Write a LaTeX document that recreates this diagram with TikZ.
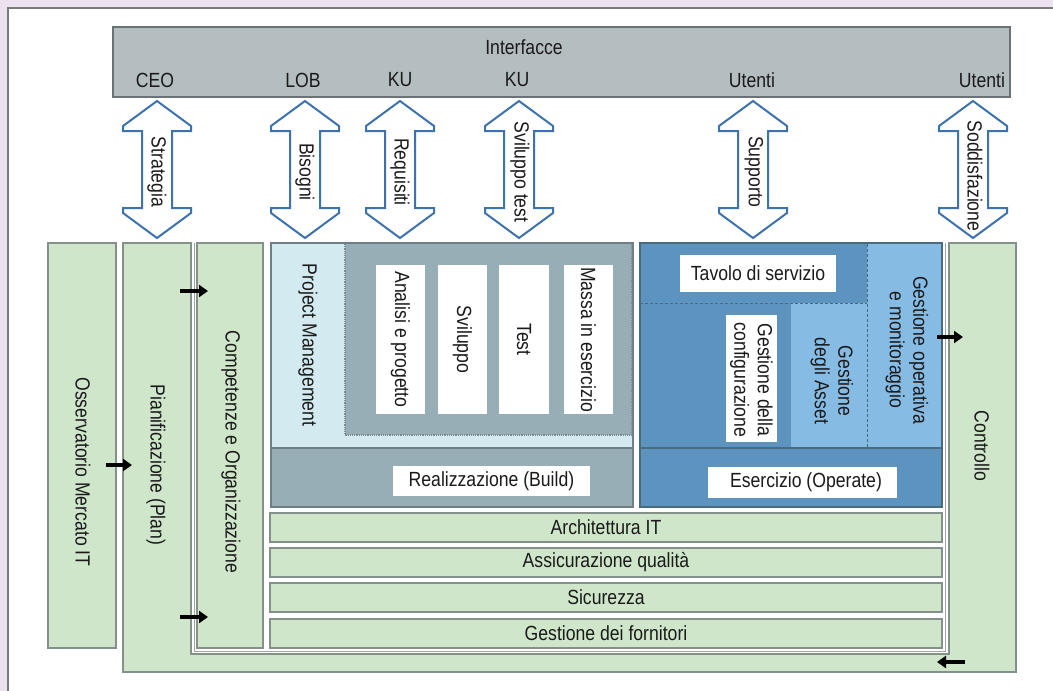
\documentclass[tikz,border=0pt]{standalone}
\usepackage{fontspec}
\setmainfont{Liberation Sans}[FakeStretch=0.86]
\usetikzlibrary{arrows.meta}
\definecolor{lav}{HTML}{ECE2EF}
\definecolor{frameg}{HTML}{7A7A7A}
\definecolor{ifill}{HTML}{B4BDC0}
\definecolor{idraw}{HTML}{6B7275}
\definecolor{arrb}{HTML}{3D72AD}
\definecolor{grnf}{HTML}{CFE6CA}
\definecolor{grnd}{HTML}{84908A}
\definecolor{bpat}{HTML}{98AEB6}
\definecolor{bdraw}{HTML}{6E7F85}
\definecolor{pmblue}{HTML}{D4EAF1}
\definecolor{opat}{HTML}{5C93BF}
\definecolor{odraw}{HTML}{4A6A80}
\definecolor{lblue}{HTML}{86BBE4}
\definecolor{txtc}{HTML}{1A1A1A}
\tikzset{
  every node/.style={inner sep=0pt, outer sep=0pt, font=\fontsize{20.5}{23.5}\selectfont, text=txtc},
  sz/.style 2 args={anchor=north west, minimum width=#1pt, minimum height=#2pt},
  grn/.style={fill=grnf, draw=grnd, line width=1.5pt},
  wbox/.style={fill=white, draw=none},
  rtxt/.style={rotate=-90, align=center},
  bigarr/.style={draw=arrb, fill=white, line width=2pt, line join=miter},
  blk/.style={-{Triangle[length=9pt,width=12pt]}, line width=3.5pt, black},
}
\newcommand\dblarr[1]{%
  \path[bigarr] (#1,101) -- ({#1+34},126) -- ({#1+34},131) -- ({#1+15},131) -- ({#1+15},208)
    -- ({#1+34},208) -- ({#1+34},213) -- (#1,238) -- ({#1-34},213) -- ({#1-34},208)
    -- ({#1-15},208) -- ({#1-15},131) -- ({#1-34},131) -- ({#1-34},126) -- cycle;}
\begin{document}
\begin{tikzpicture}[x=1pt,y=-1pt]
\useasboundingbox (0,0) rectangle (1053,691);
\fill[lav] (0,0) rectangle (1053,691);
\draw[frameg, fill=white, line width=2pt] (8,8) rectangle (1070,710);

% interface band
\node[sz={897}{70}, fill=ifill, draw=idraw, line width=2pt] (iface) at (113,27) {};
\node (tI) at (524,47) {Interfacce};
\node (uCEO) at (155,80) {CEO};
\node (uLOB) at (303,80) {LOB};
\node (uKU1) at (400,80) {KU};
\node (uKU2) at (517,80) {KU};
\node (uUt1) at (752,80) {Utenti};
\node (uUt2) at (982,80) {Utenti};

% double arrows
\dblarr{157}\dblarr{305}\dblarr{400}\dblarr{519}\dblarr{753}\dblarr{973}
\node[rtxt] (aStr) at (157,172) {Strategia};
\node[rtxt] (aBis) at (305,172) {Bisogni};
\node[rtxt] (aReq) at (400,172) {Requisiti};
\node[rtxt] (aSvt) at (520,172) {Sviluppo test};
\node[rtxt] (aSup) at (754,172) {Supporto};
\node[rtxt] (aSod) at (975,176) {Soddisfazione};

% U shape: Pianificazione + bottom + Controllo
\path[grn] (123,243) -- (123,672) -- (1016,672) -- (1016,243) -- (949,243) -- (949,654)
  -- (191,654) -- (191,243) -- cycle;
\draw[grnd!80, line width=1pt] (194.5,243) -- (194.5,651) -- (945.5,651) -- (945.5,243);

% left columns
\node[sz={68}{405}, grn] (oss) at (48,243) {};
\node[sz={66}{405}, grn] (comp) at (197,243) {};
\node[rtxt] (tOss) at (83,472) {Osservatorio Mercato IT};
\node[rtxt] (tPlan) at (156,465) {Pianificazione (Plan)};
\node[rtxt] (tComp) at (231,452) {Competenze e Organizzazione};
\node[rtxt] (tCtrl) at (982,446) {Controllo};

% Build block
\node[sz={362}{264}, fill=bpat, draw=bdraw, line width=2pt] (build) at (271,243) {};
\fill[pmblue] (272,244) rectangle (632,448);
\draw[bdraw!90, densely dotted, line width=1.2pt, fill=bpat] (345,244) -- (345,435) -- (632,435) -- (632,244);
\draw[bdraw, line width=1.5pt] (271,448) -- (633,448);
\draw[bdraw, line width=2pt] (271,243) rectangle (633,507);
\node[sz={49}{149}, wbox] (ana) at (376,265) {};
\node[sz={49}{149}, wbox] (svi) at (438,265) {};
\node[sz={50}{149}, wbox] (tst) at (499,265) {};
\node[sz={49}{149}, wbox] (mas) at (564,265) {};
\node[rtxt] (tPM) at (308,345) {Project Management};
\node[rtxt] at (ana.center) (tAna) {Analisi e progetto};
\node[rtxt] at (svi.center) (tSvi) {Sviluppo};
\node[rtxt] at (tst.center) (tTst) {Test};
\node[rtxt] at (mas.center) (tMas) {Massa in esercizio};
\node[sz={197}{30}, wbox] (real) at (393,466) {};
\node at (real.center) (tReal) {Realizzazione (Build)};

% Operate block
\node[sz={302}{264}, fill=opat, draw=odraw, line width=2pt] (oper) at (640,243) {};
\fill[lblue] (867,244) rectangle (941,448);
\fill[lblue] (791,303) rectangle (867,448);
\draw[odraw, dash pattern=on 3pt off 2pt, line width=0.9pt] (640,303) -- (867,303) (867,244) -- (867,448);
\draw[odraw, line width=1.5pt] (640,448) -- (942,448);
\draw[odraw, line width=2pt] (640,243) rectangle (942,507);
\node[sz={156}{37}, wbox] (tav) at (680,255) {};
\node at (tav.center) (tTav) {Tavolo di servizio};
\node[sz={51}{127}, wbox] (gconf) at (726,315) {};
\node[rtxt] at (751.5,380) (tGconf) {Gestione della\\configurazione};
\node[rtxt] (tGas) at (832,381) {Gestione\\degli Asset};
\node[rtxt] (tGop) at (907,350) {Gestione operativa\\e monitoraggio};
\node[sz={189}{31}, wbox] (eser) at (708,467) {};
\node at (806,482.5) (tEser) {Esercizio (Operate)};

% horizontal bands
\node[sz={672}{29}, grn] (arch) at (270,513) {};
\node[sz={672}{29}, grn] (assic) at (270,548) {};
\node[sz={672}{29}, grn] (sic) at (270,583) {};
\node[sz={672}{29}, grn] (forn) at (270,619) {};
\node at (arch.center) (tArch) {Architettura IT};
\node at (assic.center) (tAss) {Assicurazione qualità};
\node at (sic.center) (tSic) {Sicurezza};
\node at (forn.center) (tForn) {Gestione dei fornitori};

% small black arrows
\coordinate (b1s) at (180,291); \coordinate (b1e) at (208,291);
\coordinate (b2s) at (106,465); \coordinate (b2e) at (132,465);
\coordinate (b3s) at (180,617); \coordinate (b3e) at (208,617);
\coordinate (b4s) at (937,337); \coordinate (b4e) at (963,337);
\coordinate (b5s) at (965,662); \coordinate (b5e) at (937,662);
\draw[blk] (b1s) -- (b1e);
\draw[blk] (b2s) -- (b2e);
\draw[blk] (b3s) -- (b3e);
\draw[blk] (b4s) -- (b4e);
\draw[blk] (b5s) -- (b5e);
\end{tikzpicture}
\end{document}
